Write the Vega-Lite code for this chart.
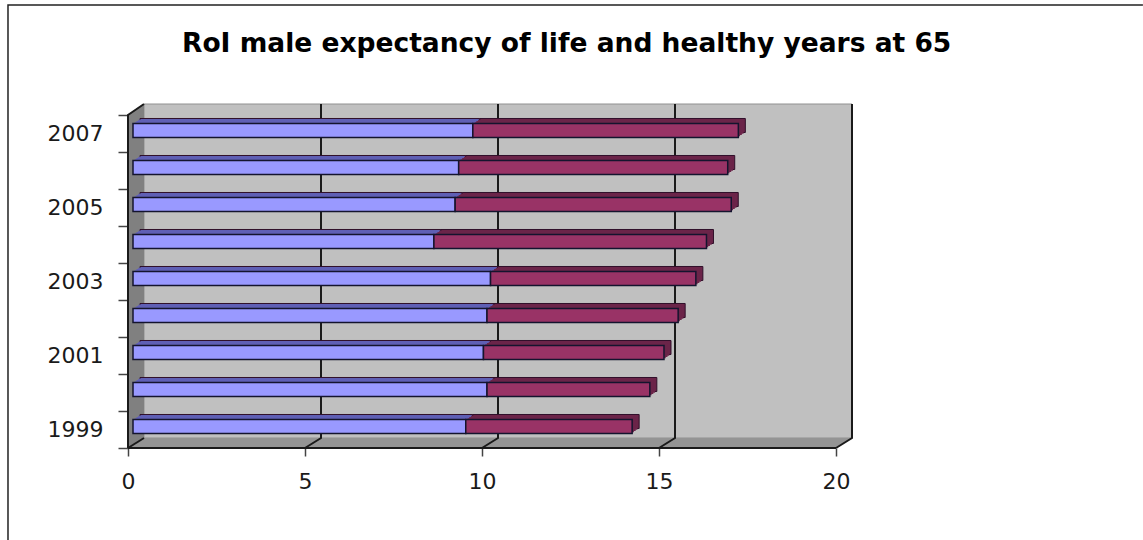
{
"$schema":"https://vega.github.io/schema/vega-lite/v6.json",
"autosize":{"type":"none"},
"padding":{"left":128,"top":104,"right":291,"bottom":92},
"width":724,"height":344,
"background":"white",
"config":{"view":{"stroke":null},"font":"DejaVu Sans"},
"title":{"text":"RoI male expectancy of life and healthy years at 65","anchor":"start","frame":"group","dx":54,"offset":-55,"font":"DejaVu Sans","fontWeight":"bold","fontSize":26.5,"color":"#000000"},
"datasets":{
"bars":[
{"year":2007,"series":"Healthy years","order":1,"years":9.6},{"year":2007,"series":"Other years","order":2,"years":7.5},
{"year":2006,"series":"Healthy years","order":1,"years":9.2},{"year":2006,"series":"Other years","order":2,"years":7.6},
{"year":2005,"series":"Healthy years","order":1,"years":9.1},{"year":2005,"series":"Other years","order":2,"years":7.8},
{"year":2004,"series":"Healthy years","order":1,"years":8.5},{"year":2004,"series":"Other years","order":2,"years":7.7},
{"year":2003,"series":"Healthy years","order":1,"years":10.1},{"year":2003,"series":"Other years","order":2,"years":5.8},
{"year":2002,"series":"Healthy years","order":1,"years":10.0},{"year":2002,"series":"Other years","order":2,"years":5.4},
{"year":2001,"series":"Healthy years","order":1,"years":9.9},{"year":2001,"series":"Other years","order":2,"years":5.1},
{"year":2000,"series":"Healthy years","order":1,"years":10.0},{"year":2000,"series":"Other years","order":2,"years":4.6},
{"year":1999,"series":"Healthy years","order":1,"years":9.4},{"year":1999,"series":"Other years","order":2,"years":4.7}
],
"grid":[
{"g":"5","o":1,"x":5,"y":1998.5},{"g":"5","o":2,"x":5.452,"y":1998.77},{"g":"5","o":3,"x":5.452,"y":2007.797},
{"g":"10","o":1,"x":10,"y":1998.5},{"g":"10","o":2,"x":10.452,"y":1998.77},{"g":"10","o":3,"x":10.452,"y":2007.797},
{"g":"15","o":1,"x":15,"y":1998.5},{"g":"15","o":2,"x":15.452,"y":1998.77},{"g":"15","o":3,"x":15.452,"y":2007.797},
{"g":"20","o":1,"x":20,"y":1998.5},{"g":"20","o":2,"x":20.452,"y":1998.77},{"g":"20","o":3,"x":20.452,"y":2007.797},
{"g":"left","o":1,"x":0,"y":1998.5},{"g":"left","o":2,"x":0,"y":2007.5},{"g":"left","o":3,"x":0.452,"y":2007.797},
{"g":"floor","o":1,"x":0,"y":1998.5},{"g":"floor","o":2,"x":20,"y":1998.5},
{"g":"corner","o":1,"x":0,"y":1998.5},{"g":"corner","o":2,"x":0.452,"y":1998.77}
],
"frameLine":[{"o":1,"x":-3.39,"y":1996.0},{"o":2,"x":-3.39,"y":2010.47},{"o":3,"x":28.67,"y":2010.47}]
},
"layer":[
{"data":{"values":[{"x":0.452,"x2":20.452,"y":1998.77,"y2":2007.797}]},
 "mark":{"type":"rect","fill":"#c0c0c0","stroke":"#909090","strokeWidth":1},
 "encoding":{
  "x":{"field":"x","type":"quantitative","scale":{"domain":[0,20.452],"nice":false,"zero":false},
   "axis":{"values":[0,5,10,15,20],"title":null,"grid":false,"domain":false,"tickSize":8,"tickColor":"#444444","tickWidth":1.5,"labelPadding":15,"labelFontSize":22,"labelColor":"#1a1a1a","labelFont":"DejaVu Sans","format":"d","labelFlush":false}},
  "x2":{"field":"x2"},
  "y":{"field":"y","type":"quantitative","scale":{"domain":[1998.5,2007.797],"nice":false,"zero":false,"padding":0},
   "axis":{"values":[1999,2001,2003,2005,2007],"title":null,"grid":false,"domain":false,"ticks":false,"labelPadding":25,"labelFontSize":22,"labelColor":"#1a1a1a","labelFont":"DejaVu Sans","format":"d"}},
  "y2":{"field":"y2"}}},
{"data":{"values":[{"x":0,"top":2007.5,"bottom":1998.5},{"x":0.452,"top":2007.797,"bottom":1998.77}]},
 "mark":{"type":"area","fill":"#808080","orient":"vertical"},
 "encoding":{
  "x":{"field":"x","type":"quantitative"},
  "y":{"field":"top","type":"quantitative","stack":null,
   "axis":{"orient":"left","values":[1998.5,1999.5,2000.5,2001.5,2002.5,2003.5,2004.5,2005.5,2006.5,2007.5],"title":null,"grid":false,"domain":false,"labels":false,"tickSize":10,"tickColor":"#444444","tickWidth":1.5}},
  "y2":{"field":"bottom"}}},
{"data":{"values":[{"y":1998.5,"x":0,"x2":20},{"y":1998.77,"x":0.452,"x2":20.452}]},
 "mark":{"type":"area","fill":"#949494","orient":"horizontal"},
 "encoding":{
  "y":{"field":"y","type":"quantitative","axis":null},
  "x":{"field":"x","type":"quantitative","stack":null},
  "x2":{"field":"x2"}}},
{"data":{"name":"grid"},
 "mark":{"type":"line","color":"#1a1a1a","strokeWidth":2},
 "encoding":{
  "x":{"field":"x","type":"quantitative"},
  "y":{"field":"y","type":"quantitative","axis":null},
  "detail":{"field":"g"},
  "order":{"field":"o"}}},
{"data":{"name":"frameLine"},
 "mark":{"type":"line","color":"#222222","strokeWidth":1.5,"clip":false},
 "encoding":{
  "x":{"field":"x","type":"quantitative"},
  "y":{"field":"y","type":"quantitative","axis":null},
  "order":{"field":"o"}}},
{"data":{"name":"bars"},
 "mark":{"type":"bar","orient":"horizontal","size":14,"xOffset":12,"yOffset":-8,"stroke":"#30102a","strokeWidth":1},
 "encoding":{
  "y":{"field":"year","type":"quantitative","axis":null},
  "x":{"field":"years","type":"quantitative","stack":"zero"},
  "order":{"field":"order"},
  "color":{"field":"series","type":"nominal","legend":null,"scale":{"domain":["Healthy years","Other years"],"range":["#5f5fb5","#6b2449"]}}}},
{"data":{"name":"bars"},
 "mark":{"type":"bar","orient":"horizontal","size":14,"xOffset":10.25,"yOffset":-6.75},
 "encoding":{
  "y":{"field":"year","type":"quantitative","axis":null},
  "x":{"field":"years","type":"quantitative","stack":"zero"},
  "order":{"field":"order"},
  "color":{"field":"series","type":"nominal","legend":null,"scale":{"domain":["Healthy years","Other years"],"range":["#5f5fb5","#6b2449"]}}}},
{"data":{"name":"bars"},
 "mark":{"type":"bar","orient":"horizontal","size":14,"xOffset":8.5,"yOffset":-5.5},
 "encoding":{
  "y":{"field":"year","type":"quantitative","axis":null},
  "x":{"field":"years","type":"quantitative","stack":"zero"},
  "order":{"field":"order"},
  "color":{"field":"series","type":"nominal","legend":null,"scale":{"domain":["Healthy years","Other years"],"range":["#5f5fb5","#6b2449"]}}}},
{"data":{"name":"bars"},
 "mark":{"type":"bar","orient":"horizontal","size":14,"xOffset":6.75,"yOffset":-4.25},
 "encoding":{
  "y":{"field":"year","type":"quantitative","axis":null},
  "x":{"field":"years","type":"quantitative","stack":"zero"},
  "order":{"field":"order"},
  "color":{"field":"series","type":"nominal","legend":null,"scale":{"domain":["Healthy years","Other years"],"range":["#5f5fb5","#6b2449"]}}}},
{"data":{"name":"bars"},
 "mark":{"type":"bar","orient":"horizontal","size":14,"xOffset":5,"yOffset":-3,"stroke":"#14142e","strokeWidth":1.5},
 "encoding":{
  "y":{"field":"year","type":"quantitative","axis":null},
  "x":{"field":"years","type":"quantitative","stack":"zero"},
  "order":{"field":"order"},
  "color":{"field":"series","type":"nominal","legend":null,"scale":{"domain":["Healthy years","Other years"],"range":["#9999ff","#993366"]}}}}
],
"resolve":{"axis":{"y":"independent"},"scale":{"color":"independent"}}
}
